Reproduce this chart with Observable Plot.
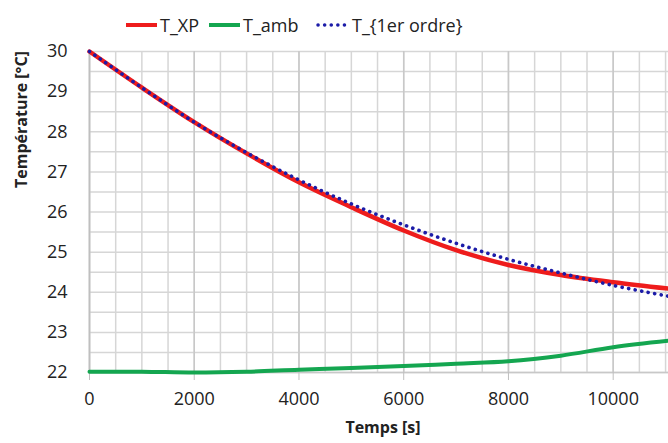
<!DOCTYPE html>
<html><head><meta charset="utf-8">
<script src="https://cdn.jsdelivr.net/npm/d3@7"></script>
<script src="https://cdn.jsdelivr.net/npm/@observablehq/plot@0.6"></script>
<style>
body{margin:0;background:#fff;font-family:"Open Sans",sans-serif;}
#wrap{position:relative;width:668px;height:443px;overflow:hidden;background:#fff}
#legend{position:relative;height:38px}
.item{position:absolute;top:13px;display:flex;align-items:center;font-size:18px;color:#222;line-height:24px;white-space:nowrap}
.item svg{margin-right:2px}
</style></head><body>
<div id="wrap"><div id="legend"></div><div id="chart"></div></div>
<script>
const times = [0, 1000, 2000, 3000, 4000, 5000, 6000, 7000, 8000, 9000, 10000, 11056];
const tXP   = [30, 29.10, 28.24, 27.46, 26.74, 26.12, 25.54, 25.05, 24.68, 24.43, 24.25, 24.09];
const tAmb  = [22.02, 22.02, 22.00, 22.02, 22.07, 22.11, 22.16, 22.22, 22.28, 22.42, 22.63, 22.79];
const t1er  = [30, 29.10, 28.24, 27.48, 26.80, 26.20, 25.68, 25.22, 24.82, 24.48, 24.17, 23.90];
const xTicks = [0, 2000, 4000, 6000, 8000, 10000];
const yTicks = [22, 23, 24, 25, 26, 27, 28, 29, 30];
const seriesNames = ["T_XP", "T_amb", "T_{1er ordre}"];
const colors = ["#ee1c1c", "#14a650", "#1c1ca8"];

// legend
const legend = document.getElementById("legend");
const lefts = [124, 207, 316];
seriesNames.forEach((name, i) => {
  const d = document.createElement("div");
  d.className = "item";
  d.style.left = lefts[i] + "px";
  const dash = i === 2 ? 'stroke-dasharray="0.1,6.5" stroke-linecap="round" stroke-width="3.5"' : 'stroke-width="4"';
  d.innerHTML = `<svg width="34" height="10"><line x1="2" y1="5" x2="33" y2="5" stroke="${colors[i]}" ${dash}/></svg><span>${name}</span>`;
  legend.appendChild(d);
});

const chart = Plot.plot({
  width: 668, height: 405,
  marginLeft: 89, marginRight: 0, marginTop: 13, marginBottom: 71,
  style: {fontFamily: "Open Sans, sans-serif", fontSize: "18px", color: "#222", background: "#fff"},
  x: {domain: [0, 11056]},
  y: {domain: [22, 30]},
  marks: [
    Plot.ruleX(d3.range(0, 11001, 500), {stroke: "#d6d6d6", strokeWidth: 1.5}),
    Plot.ruleY(d3.range(22, 30.01, 0.5), {stroke: "#d6d6d6", strokeWidth: 1.5}),
    Plot.ruleX(xTicks, {stroke: "#c8c8c8", strokeWidth: 1.5}),
    Plot.ruleX([0], {stroke: "#bfbfbf", strokeWidth: 1.5}),
    Plot.ruleY([22], {stroke: "#c8c8c8", strokeWidth: 1.5}),
    Plot.axisX({ticks: xTicks, tickSize: 8, tickPadding: 12, stroke: "#bfbfbf", tickFormat: d => String(d), label: null}),
    Plot.axisY({ticks: yTicks, tickSize: 0, tickPadding: 22, tickFormat: d => String(d), label: null}),
    Plot.line(times, {x: times, y: tAmb, stroke: colors[1], strokeWidth: 4, curve: "catmull-rom"}),
    Plot.line(times, {x: times, y: tXP, stroke: colors[0], strokeWidth: 4.5, curve: "catmull-rom"}),
    Plot.line(times, {x: times, y: t1er, stroke: colors[2], strokeWidth: 3.6, strokeDasharray: "0.1,6.5", strokeLinecap: "round", curve: "catmull-rom"}),
    Plot.text(["Temps [s]"], {frameAnchor: "bottom", dy: 60, dx: 4, fontWeight: "bold", fontSize: 16, fill: "#222"}),
    Plot.text(["Température [°C]"], {frameAnchor: "left", dx: -68, dy: -24, rotate: -90, fontWeight: "bold", fontSize: 16, fill: "#222"})
  ]
});
document.getElementById("chart").appendChild(chart);
</script>
</body></html>
